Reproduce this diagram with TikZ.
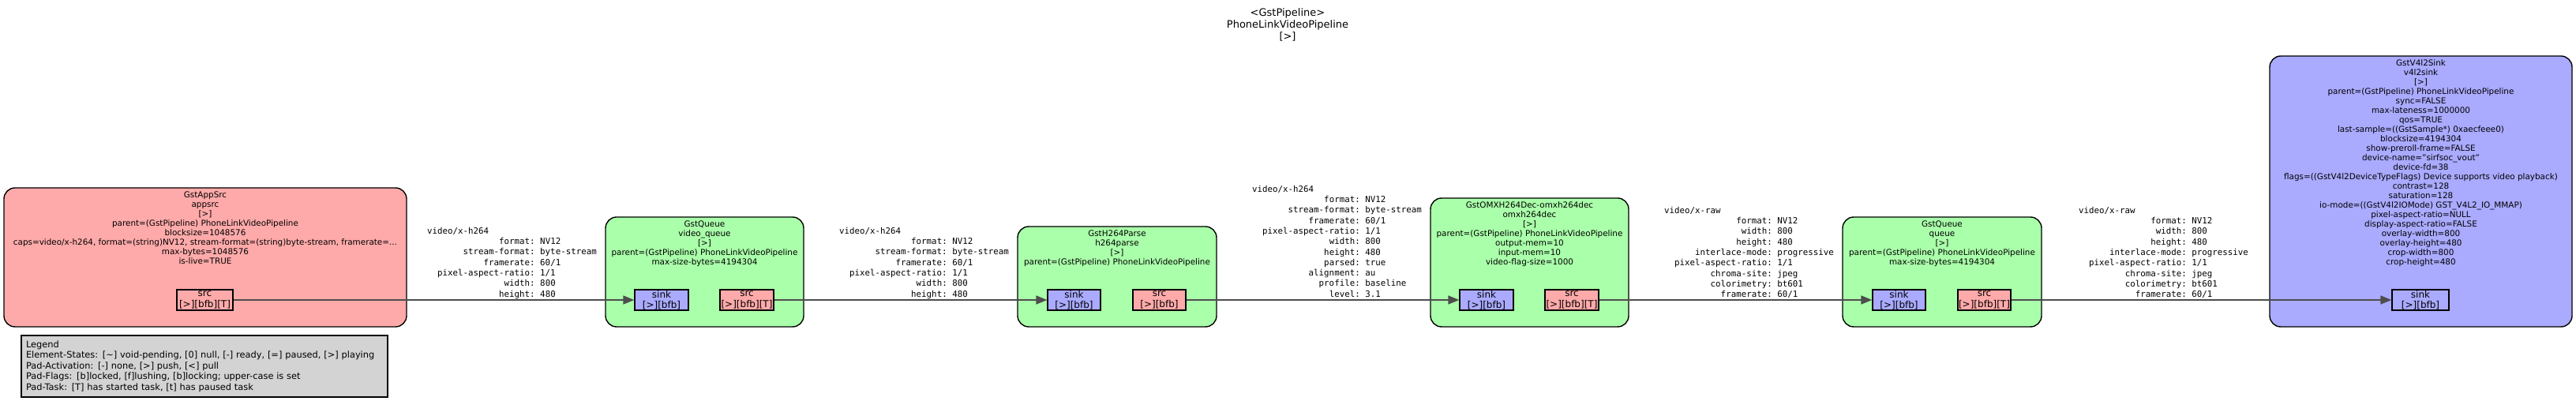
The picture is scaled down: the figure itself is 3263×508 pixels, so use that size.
\documentclass[tikz,border=0pt]{standalone}
\usepackage{fontspec}
\setmainfont{DejaVu Sans}
\newfontfamily\monof{DejaVu Sans Mono}
\usetikzlibrary{arrows.meta}
\definecolor{srcc}{HTML}{FFAAAA}
\definecolor{filtc}{HTML}{AAFFAA}
\definecolor{sinkc}{HTML}{AAAAFF}
\definecolor{legc}{HTML}{D3D3D3}
\definecolor{edgec}{HTML}{4D4D4D}
\newcommand{\capstab}[2]{{\renewcommand{\arraystretch}{1}\setlength{\tabcolsep}{0pt}%
\begin{tabular}{@{\hspace{1.204em}}r@{:\ }l@{}}\multicolumn{2}{@{}l@{}}{#1}\\#2\end{tabular}}}
\tikzset{
  elem/.style={draw=black, line width=1.4pt, rounded corners=14pt, inner sep=0pt},
  etext/.style={anchor=north, inner sep=0pt, align=center, font=\fontsize{10.4}{12}\selectfont},
  pad/.style={draw=black, line width=1.3pt, inner sep=0pt, minimum height=26pt, align=center, font=\fontsize{12}{13.5}\selectfont},
  caps/.style={anchor=north west, inner sep=0pt, font=\monof\fontsize{10.8}{13.3}\selectfont},
  edge/.style={draw=edgec, line width=1.6pt, -{Triangle[length=14pt,width=11pt]}},
}
\begin{document}
\begin{tikzpicture}[x=1pt,y=1pt]
\useasboundingbox (0,0) rectangle (3263,508);
\fill[white] (0,0) rectangle (3263,508);

% title
\node[anchor=north, inner sep=0pt, align=center, font=\fontsize{13}{15}\selectfont] (title) at (1631,498)
  {<GstPipeline>\\PhoneLinkVideoPipeline\\{}[>]};

% elements
\node[elem, fill=srcc, minimum width=510pt, minimum height=176pt] (appsrc) at (260,182) {};
\node[etext] (appsrct) at ([yshift=-5.5pt]appsrc.north) {GstAppSrc\\appsrc\\{}[>]\\parent=(GstPipeline) PhoneLinkVideoPipeline\\blocksize=1048576\\caps=video/x-h264, format=(string)NV12, stream-format=(string)byte-stream, framerate=...\\max-bytes=1048576\\is-live=TRUE};

\node[elem, fill=filtc, minimum width=251pt, minimum height=139pt] (vq) at (892.5,163.5) {};
\node[etext] (vqt) at ([yshift=-5.5pt]vq.north) {GstQueue\\video\_queue\\{}[>]\\parent=(GstPipeline) PhoneLinkVideoPipeline\\max-size-bytes=4194304};

\node[elem, fill=filtc, minimum width=252pt, minimum height=127pt] (parse) at (1415,157.5) {};
\node[etext] (parset) at ([yshift=-5.5pt]parse.north) {GstH264Parse\\h264parse\\{}[>]\\parent=(GstPipeline) PhoneLinkVideoPipeline};

\node[elem, fill=filtc, minimum width=251pt, minimum height=163pt] (dec) at (1937.5,175.5) {};
\node[etext] (dect) at ([yshift=-5.5pt]dec.north) {GstOMXH264Dec-omxh264dec\\omxh264dec\\{}[>]\\parent=(GstPipeline) PhoneLinkVideoPipeline\\output-mem=10\\input-mem=10\\video-flag-size=1000};

\node[elem, fill=filtc, minimum width=252pt, minimum height=139pt] (queue) at (2460,163.5) {};
\node[etext] (queuet) at ([yshift=-5.5pt]queue.north) {GstQueue\\queue\\{}[>]\\parent=(GstPipeline) PhoneLinkVideoPipeline\\max-size-bytes=4194304};

\node[elem, fill=sinkc, minimum width=383pt, minimum height=343pt] (v4l) at (3066.5,265.5) {};
\node[etext] (v4lt) at ([yshift=-5.5pt]v4l.north) {GstV4l2Sink\\v4l2sink\\{}[>]\\parent=(GstPipeline) PhoneLinkVideoPipeline\\sync=FALSE\\max-lateness=1000000\\qos=TRUE\\last-sample=((GstSample*) 0xaecfeee0)\\blocksize=4194304\\show-preroll-frame=FALSE\\device-name="sirfsoc\_vout"\\device-fd=38\\flags=((GstV4l2DeviceTypeFlags) Device supports video playback)\\contrast=128\\saturation=128\\io-mode=((GstV4l2IOMode) GST\_V4L2\_IO\_MMAP)\\pixel-aspect-ratio=NULL\\display-aspect-ratio=FALSE\\overlay-width=800\\overlay-height=480\\crop-width=800\\crop-height=480};

% pads
\node[pad, fill=srcc, minimum width=71pt] (appsrc-src) at (259.5,128) {src\\{}[>][bfb][T]};
\node[pad, fill=sinkc, minimum width=68pt] (vq-sink) at (838,128) {sink\\{}[>][bfb]};
\node[pad, fill=srcc, minimum width=68pt] (vq-src) at (946,128) {src\\{}[>][bfb][T]};
\node[pad, fill=sinkc, minimum width=67pt] (parse-sink) at (1360.5,128) {sink\\{}[>][bfb]};
\node[pad, fill=srcc, minimum width=67pt] (parse-src) at (1468.5,128) {src\\{}[>][bfb]};
\node[pad, fill=sinkc, minimum width=68pt] (dec-sink) at (1883,128) {sink\\{}[>][bfb]};
\node[pad, fill=srcc, minimum width=68pt] (dec-src) at (1991,128) {src\\{}[>][bfb][T]};
\node[pad, fill=sinkc, minimum width=67pt] (queue-sink) at (2405.5,128) {sink\\{}[>][bfb]};
\node[pad, fill=srcc, minimum width=67pt] (queue-src) at (2513.5,128) {src\\{}[>][bfb][T]};
\node[pad, fill=sinkc, minimum width=72pt] (v4l-sink) at (3066,128) {sink\\{}[>][bfb]};

% edges
\draw[edge] (appsrc-src.east) -- (vq-sink.west);
\draw[edge] (vq-src.east) -- (parse-sink.west);
\draw[edge] (parse-src.east) -- (dec-sink.west);
\draw[edge] (dec-src.east) -- (queue-sink.west);
\draw[edge] (queue-src.east) -- (v4l-sink.west);

% caps labels
\node[caps] (cap1) at (541,221.3) {\capstab{video/x-h264}{format & NV12\\stream-format & byte-stream\\framerate & 60/1\\pixel-aspect-ratio & 1/1\\width & 800\\height & 480}};
\node[caps] (cap2) at (1063,221.3) {\capstab{video/x-h264}{format & NV12\\stream-format & byte-stream\\framerate & 60/1\\pixel-aspect-ratio & 1/1\\width & 800\\height & 480}};
\node[caps] (cap3) at (1586,274.3) {\capstab{video/x-h264}{format & NV12\\stream-format & byte-stream\\framerate & 60/1\\pixel-aspect-ratio & 1/1\\width & 800\\height & 480\\parsed & true\\alignment & au\\profile & baseline\\level & 3.1}};
\node[caps] (cap4) at (2108,247.3) {\capstab{video/x-raw}{format & NV12\\width & 800\\height & 480\\interlace-mode & progressive\\pixel-aspect-ratio & 1/1\\chroma-site & jpeg\\colorimetry & bt601\\framerate & 60/1}};
\node[caps] (cap5) at (2633,247.3) {\capstab{video/x-raw}{format & NV12\\width & 800\\height & 480\\interlace-mode & progressive\\pixel-aspect-ratio & 1/1\\chroma-site & jpeg\\colorimetry & bt601\\framerate & 60/1}};

% legend
\node[draw=black, line width=1.3pt, fill=legc, minimum width=464pt, minimum height=78pt, text width=452pt, inner xsep=6pt, inner ysep=0pt, align=left, font=\fontsize{11.4}{13.5}\selectfont] (legend) at (259,44)
  {\mbox{Legend}\\\mbox{Element-States: [\textasciitilde] void-pending, [0] null, [-] ready, [=] paused, [>] playing}\\\mbox{Pad-Activation: [-] none, [>] push, [<] pull}\\\mbox{Pad-Flags: [b]locked, [f]lushing, [b]locking; upper-case is set}\\\mbox{Pad-Task: [T] has started task, [t] has paused task}};
\end{tikzpicture}
\end{document}
